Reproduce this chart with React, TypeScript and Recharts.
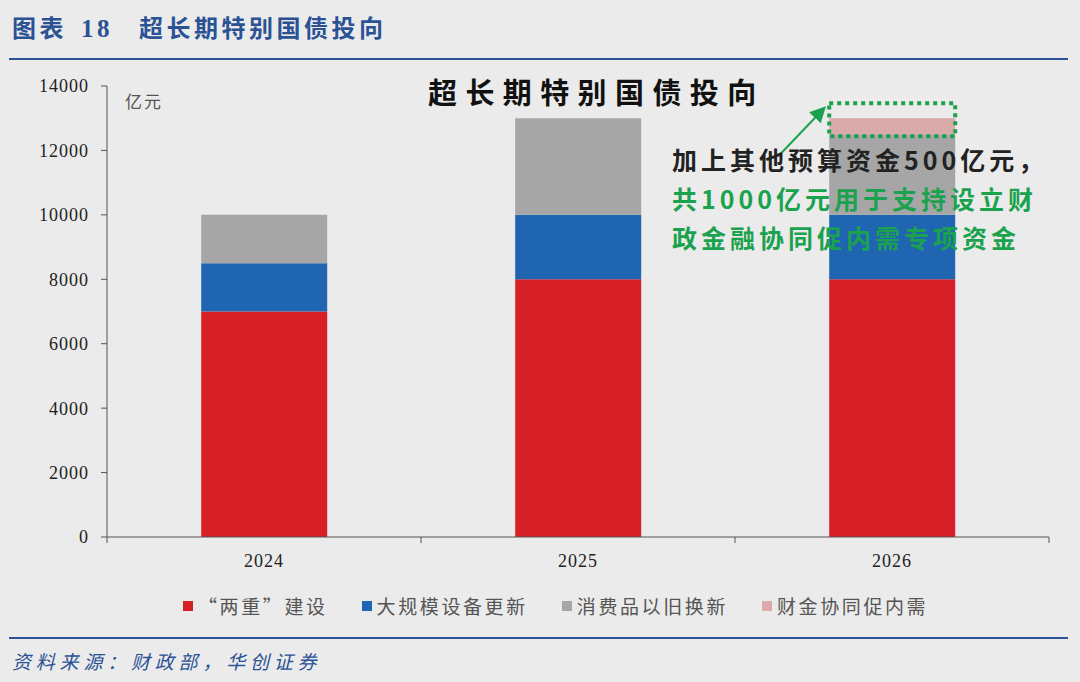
import { Bar, BarChart, XAxis, YAxis } from 'recharts';

const YEARS = ['2024', '2025', '2026'];
const LIANGZHONG = [7000, 8000, 8000];
const EQUIPMENT = [1500, 2000, 2000];
const TRADE_IN = [1500, 3000, 2500];
const FIN_COORD = [0, 0, 500];
const Y_TICKS = [0, 2000, 4000, 6000, 8000, 10000, 12000, 14000];

const SERIES = [
  { key: 'liangzhong', name: '“两重”建设', color: '#D71F27' },
  { key: 'equipment', name: '大规模设备更新', color: '#1F65B2' },
  { key: 'tradeIn', name: '消费品以旧换新', color: '#A6A6A6' },
  { key: 'finCoord', name: '财金协同促内需', color: '#DBAAAA' },
];

const NOTE_LINES = [
  { text: '加上其他预算资金500亿元，', color: '#222222' },
  { text: '共1000亿元用于支持设立财', color: '#1BA24E' },
  { text: '政金融协同促内需专项资金', color: '#1BA24E' },
];

const BG = '#EBEBEB';
const NAVY = '#2A5294';
const GREEN = '#1BA24E';
const AXIS = '#555555';
const SERIF = '"Liberation Serif", "Noto Sans CJK SC", serif';
const CJK = '"Noto Sans CJK SC", sans-serif';

const data = YEARS.map((year, i) => ({
  year,
  liangzhong: LIANGZHONG[i],
  equipment: EQUIPMENT[i],
  tradeIn: TRADE_IN[i],
  finCoord: FIN_COORD[i],
}));

// x tick: label centred, small marks on the category boundaries
function YearTick(props: any) {
  const { x, y, payload, index, visibleTicksCount } = props;
  const off = payload?.offset ?? 157;
  const last = index === visibleTicksCount - 1;
  return (
    <g>
      <line x1={x - off} y1={y} x2={x - off} y2={y + 6} stroke={AXIS} />
      {last && <line x1={x + off} y1={y} x2={x + off} y2={y + 6} stroke={AXIS} />}
      <text
        x={x}
        y={y + 24}
        textAnchor="middle"
        dominantBaseline="central"
        fontFamily={SERIF}
        fontSize={18}
        letterSpacing={1}
        fill="#222"
      >
        {payload.value}
      </text>
    </g>
  );
}

// top segment + dotted highlight box and arrow for the new item
function HighlightBar(props: any) {
  const { x, y, width, height, fill, value } = props;
  const v = Array.isArray(value) ? value[1] - value[0] : value;
  if (!v || height <= 0) return null;
  return (
    <g>
      <defs>
        <marker
          id="arrowHead"
          markerWidth="8"
          markerHeight="8"
          refX="6"
          refY="4"
          orient="auto"
          markerUnits="strokeWidth"
        >
          <path d="M0,0 L8,4 L0,8 Z" fill={GREEN} />
        </marker>
      </defs>
      <rect x={x} y={y} width={width} height={height} fill={fill} />
      <rect
        x={x}
        y={y - 15}
        width={width}
        height={height + 17}
        fill="none"
        stroke={GREEN}
        strokeWidth={4}
        strokeDasharray="4 4"
      />
      <line
        x1={x - 50}
        y1={y + 37}
        x2={x - 6}
        y2={y - 9}
        stroke={GREEN}
        strokeWidth={2}
        markerEnd="url(#arrowHead)"
      />
    </g>
  );
}

export default function App() {
  return (
    <div
      style={{
        position: 'absolute',
        left: 0,
        top: 0,
        width: 1080,
        height: 682,
        background: BG,
        overflow: 'hidden',
      }}
    >
      {/* figure header */}
      <div
        style={{
          position: 'absolute',
          left: 12,
          top: 9,
          color: NAVY,
          fontFamily: CJK,
          fontWeight: 700,
          fontSize: 24,
          letterSpacing: 3.5,
          whiteSpace: 'nowrap',
        }}
      >
        图表<span style={{ fontFamily: SERIF, fontSize: 25, margin: '0 26px 0 14px' }}>18</span>超长期特别国债投向
      </div>
      <div style={{ position: 'absolute', left: 9, top: 58, width: 1059, height: 2, background: NAVY }} />

      <BarChart
        width={1080}
        height={682}
        data={data}
        barCategoryGap="30%"
        margin={{ top: 86, right: 31, bottom: 105, left: 0 }}
      >
        <XAxis
          dataKey="year"
          height={40}
          tickSize={0}
          tickMargin={0}
          tickLine={false}
          axisLine={{ stroke: AXIS }}
          tick={<YearTick />}
        />
        <YAxis
          width={107}
          domain={[0, 14000]}
          ticks={Y_TICKS}
          interval={0}
          tickSize={6}
          tickMargin={12}
          axisLine={{ stroke: AXIS }}
          tickLine={{ stroke: AXIS }}
          tick={{ fontFamily: SERIF, fontSize: 18, fill: '#222', letterSpacing: 1 }}
        />
        {SERIES.map((s) => (
          <Bar
            key={s.key}
            dataKey={s.key}
            name={s.name}
            stackId="total"
            fill={s.color}
            isAnimationActive={false}
            shape={s.key === 'finCoord' ? <HighlightBar /> : undefined}
          />
        ))}
      </BarChart>

      {/* unit */}
      <div
        style={{
          position: 'absolute',
          left: 125,
          top: 88,
          fontFamily: CJK,
          fontSize: 17,
          color: '#555',
          letterSpacing: 2,
        }}
      >
        亿元
      </div>

      {/* chart title */}
      <div
        style={{
          position: 'absolute',
          left: 428,
          top: 70,
          fontFamily: CJK,
          fontWeight: 700,
          fontSize: 29,
          letterSpacing: 8.4,
          color: '#111',
          whiteSpace: 'nowrap',
        }}
      >
        超长期特别国债投向
      </div>

      {/* annotation */}
      <div style={{ position: 'absolute', left: 672, top: 140 }}>
        {NOTE_LINES.map((l) => (
          <div
            key={l.text}
            style={{
              fontFamily: CJK,
              fontWeight: 700,
              fontSize: 25,
              lineHeight: '39px',
              height: 39,
              letterSpacing: 4,
              color: l.color,
              whiteSpace: 'nowrap',
            }}
          >
            {l.text}
          </div>
        ))}
      </div>

      {/* legend */}
      <div
        style={{
          position: 'absolute',
          left: 183,
          top: 592,
          display: 'flex',
          alignItems: 'center',
          gap: 34,
          fontFamily: CJK,
          fontSize: 19,
          color: '#555',
          letterSpacing: 2.6,
          whiteSpace: 'nowrap',
        }}
      >
        {SERIES.map((s) => (
          <div key={s.key} style={{ display: 'flex', alignItems: 'center', gap: 5 }}>
            <span style={{ width: 10, height: 10, background: s.color, display: 'inline-block' }} />
            <span>{s.name}</span>
          </div>
        ))}
      </div>

      {/* footer */}
      <div style={{ position: 'absolute', left: 9, top: 637, width: 1059, height: 2, background: NAVY }} />
      <div
        style={{
          position: 'absolute',
          left: 12,
          top: 647,
          fontFamily: CJK,
          fontStyle: 'italic',
          fontSize: 19,
          letterSpacing: 4.8,
          color: NAVY,
          whiteSpace: 'nowrap',
        }}
      >
        资料来源：财政部，华创证券
      </div>
    </div>
  );
}
